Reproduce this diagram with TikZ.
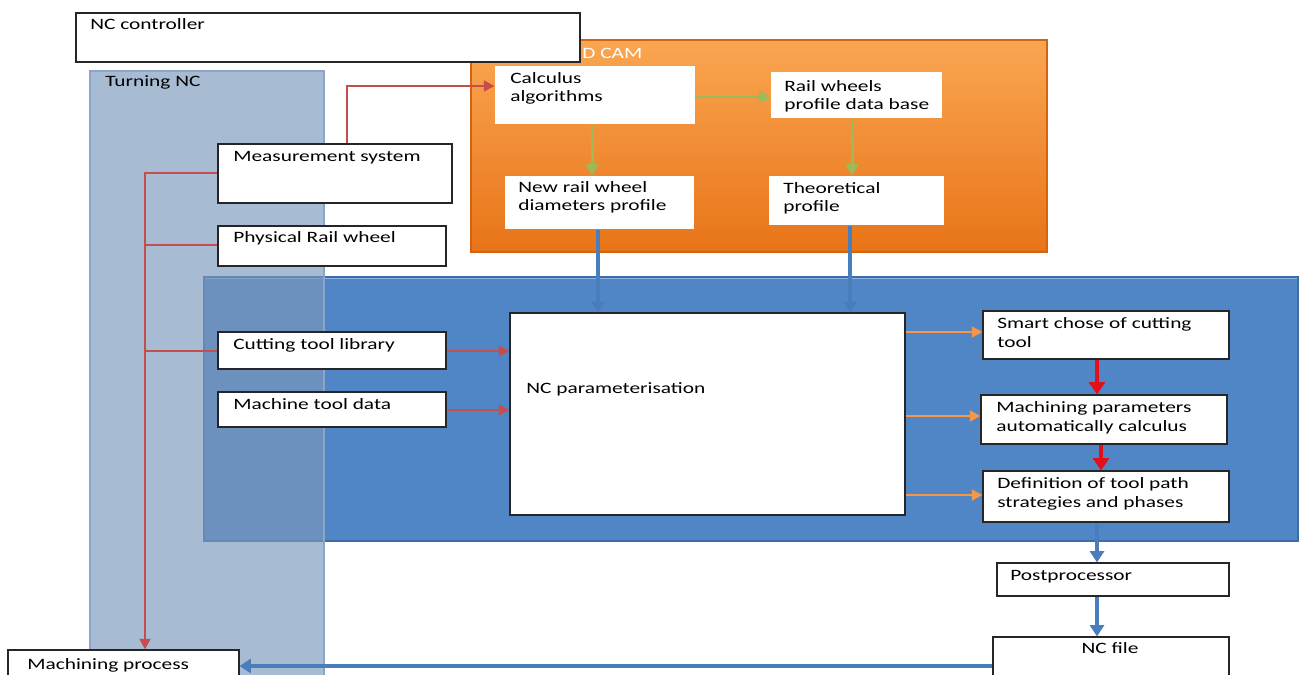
\documentclass[tikz,border=0pt]{standalone}
\usepackage{fontspec}
\setmainfont{Carlito}[FakeStretch=1.35]
\usetikzlibrary{arrows.meta,fit}
\definecolor{turnfill}{RGB}{122,152,188}
\definecolor{turnedge}{RGB}{140,165,197}
\definecolor{bluepanel}{RGB}{81,134,198}
\definecolor{blueedge}{RGB}{62,108,168}
\definecolor{bluetop}{RGB}{141,180,226}
\definecolor{orangetop}{RGB}{250,166,82}
\definecolor{orangebot}{RGB}{232,116,24}
\definecolor{orangeedge}{RGB}{214,100,14}
\definecolor{redline}{RGB}{196,78,78}
\definecolor{greenline}{RGB}{155,187,89}
\definecolor{blueline}{RGB}{74,125,187}
\definecolor{orangeline}{RGB}{247,150,70}
\definecolor{brightred}{RGB}{226,16,26}
\begin{document}
\begin{tikzpicture}[x=0.02cm,y=-0.02cm,
  box/.style={draw=black!85, line width=0.6pt, fill=white, inner sep=0pt},
  txt/.style={anchor=base west, inner sep=0pt, align=left, font=\fontsize{9}{10.6}\selectfont},
  redarrow/.style={draw=redline, line width=1.4pt, -{Triangle[length=6pt,width=6pt]}},
  redplain/.style={draw=redline, line width=1.4pt},
  greenarrow/.style={draw=greenline, line width=1.7pt, -{Triangle[length=6.5pt,width=7pt]}},
  bluearrow/.style={draw=blueline, line width=2pt, -{Triangle[length=6.5pt,width=8pt]}},
  orangearrow/.style={draw=orangeline, line width=1.5pt, -{Triangle[length=6pt,width=6pt]}},
  brightarrow/.style={draw=brightred, line width=2.2pt, -{Triangle[length=7pt,width=9pt]}}]
\clip (0,0) rectangle (1300,675);
\fill[white] (0,0) rectangle (1300,675);

% panels
\fill[bluepanel, draw=blueedge, line width=0.6pt] (204,277) rectangle (1298,541);
\draw[bluetop, line width=1pt] (205,278.5) -- (1297,278.5);
\fill[turnfill, fill opacity=0.66, draw=turnedge, line width=0.6pt] (90,71) rectangle (324,700);
\shade[top color=orangetop, bottom color=orangebot, draw=orangeedge, line width=0.6pt] (471,40) rectangle (1047,252);
\node[txt, text=white] (tcam) at (582,59) {D CAM};
\node[txt] (tturn) at (105,87) {Turning NC};

% boxes
\node[box, fit={(76,13) (580,62)}] (nc) {};
\node[txt] (tnc) at (90,30) {NC controller};
\node[box, draw=none, fit={(495,66) (695,124)}] (ca) {};
\node[txt] (tca) at (510,102) {Calculus\\algorithms};
\node[box, draw=none, fit={(771,72) (942,118)}] (rw) {};
\node[txt] (trw) at (784,110) {Rail wheels\\profile data base};
\node[box, draw=none, fit={(505,176) (694,229)}] (nr) {};
\node[txt] (tnr) at (518,211) {New rail wheel\\diameters profile};
\node[box, draw=none, fit={(769,176) (944,225)}] (th) {};
\node[txt] (tth) at (783,212) {Theoretical\\profile};
\node[box, fit={(218,144) (452,203)}] (ms) {};
\node[txt] (tms) at (233,162) {Measurement system};
\node[box, fit={(218,226) (446,266)}] (pr) {};
\node[txt] (tpr) at (233,243) {Physical Rail wheel};
\node[box, fit={(218,332) (446,369)}] (ct) {};
\node[txt] (tct) at (233,349) {Cutting tool library};
\node[box, fit={(218,392) (446,427)}] (mt) {};
\node[txt] (tmt) at (233,409) {Machine tool data};
\node[box, fit={(510,313) (905,515)}] (np) {};
\node[txt] (tnp) at (526,393) {NC parameterisation};
\node[box, fit={(983,311) (1229,359)}] (sm) {};
\node[txt] (tsm) at (997,347) {Smart chose of cutting\\tool};
\node[box, fit={(981,395) (1227,444)}] (mc) {};
\node[txt] (tmc) at (996,431) {Machining parameters\\automatically calculus};
\node[box, fit={(983,471) (1229,522)}] (df) {};
\node[txt] (tdf) at (997,507) {Definition of tool path\\strategies and phases};
\node[box, fit={(997,563) (1229,596)}] (pp) {};
\node[txt] (tpp) at (1010,580) {Postprocessor};
\node[box, fit={(993,637) (1229,700)}] (nf) {};
\node[txt, anchor=base] (tnf) at (1110,653) {NC file};
\node[box, fit={(8,650) (239,700)}] (mp) {};
\node[txt] (tmp) at (27,669) {Machining process};

% red connectors
\draw[redarrow] (347,0 |- ms.north) |- (ca.west |- 0,86);
\draw[redarrow] (ms.west |- 0,173) -| (145,0 |- mp.north);
\draw[redplain] (pr.west |- 0,245) -- (145,245);
\draw[redplain] (ct.west |- 0,351) -- (145,351);
\draw[redarrow] (ct.east |- 0,351) -- (np.west |- 0,351);
\draw[redarrow] (mt.east |- 0,410) -- (np.west |- 0,410);

% green connectors
\draw[greenarrow] (592,0 |- ca.south) -- (592,0 |- nr.north);
\draw[greenarrow] (ca.east |- 0,97) -- (rw.west |- 0,97);
\draw[greenarrow] (852,0 |- rw.south) -- (852,0 |- th.north);

% blue connectors
\draw[bluearrow] (598,0 |- nr.south) -- (598,0 |- np.north);
\draw[bluearrow] (850,0 |- th.south) -- (850,0 |- np.north);
\draw[bluearrow] (1097,0 |- df.south) -- (1097,0 |- pp.north);
\draw[bluearrow] (1097,0 |- pp.south) -- (1097,0 |- nf.north);
\draw[bluearrow] (nf.west |- 0,666) -- (mp.east |- 0,666);

% orange connectors
\draw[orangearrow] (np.east |- 0,332) -- (sm.west |- 0,332);
\draw[orangearrow] (np.east |- 0,416) -- (mc.west |- 0,416);
\draw[orangearrow] (np.east |- 0,495) -- (df.west |- 0,495);

% bright red connectors
\draw[brightarrow] (1097,0 |- sm.south) -- (1097,0 |- mc.north);
\draw[brightarrow] (1101,0 |- mc.south) -- (1101,0 |- df.north);
\end{tikzpicture}
\end{document}
